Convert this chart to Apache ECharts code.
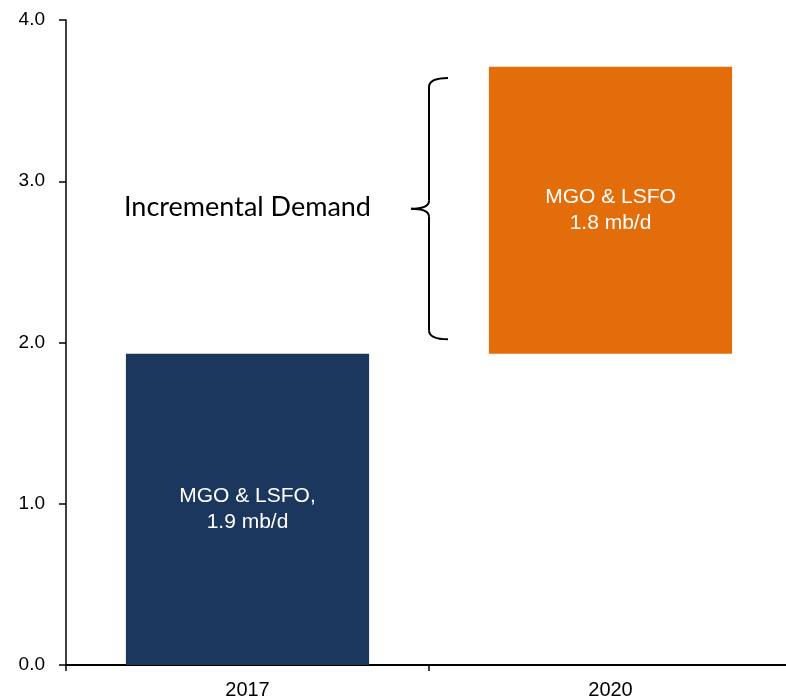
<!DOCTYPE html>
<html><head><meta charset="utf-8">
<script src="https://cdn.jsdelivr.net/npm/echarts@6/dist/echarts.min.js"></script>
<style>html,body{margin:0;padding:0;background:#fff}#c{width:786px;height:697px}</style>
</head><body><div id="c"></div>
<script>
var categories = ['2017', '2020'];
var baseValues = [1.93, 1.93];
var incrementValues = ['-', 1.78];
var barLabels = ['MGO & LSFO,\n1.9 mb/d', 'MGO & LSFO\n1.8 mb/d'];
var yTicks = [0, 1, 2, 3, 4];
var annotationText = 'Incremental Demand';
var braceRange = [2.02, 3.64];

var chart = echarts.init(document.getElementById('c'), null, {renderer: 'canvas'});
var labelFont = {color: '#fff', fontSize: 21, fontFamily: 'Liberation Sans, Arial', lineHeight: 26};
chart.setOption({
  animation: false,
  grid: {left: 66, top: 20, width: 726, height: 645, outerBoundsMode: 'none', containLabel: false},
  xAxis: {
    type: 'category', data: categories,
    axisLine: {lineStyle: {color: '#000', width: 2}},
    axisTick: {show: true, length: 6, lineStyle: {color: '#000', width: 1.5}},
    axisLabel: {color: '#000', fontSize: 20, fontFamily: 'Liberation Sans, Arial', margin: 15}
  },
  yAxis: {
    type: 'value', min: yTicks[0], max: yTicks[yTicks.length - 1], interval: 1,
    axisLine: {show: true, lineStyle: {color: '#000', width: 1.5}},
    axisTick: {show: true, length: 7, lineStyle: {color: '#000', width: 1.5}},
    splitLine: {show: false},
    axisLabel: {color: '#000', fontSize: 19, fontFamily: 'Liberation Sans, Arial', margin: 21,
      formatter: function (v) { return v.toFixed(1); }}
  },
  series: [
    {
      type: 'bar', stack: 's', barWidth: '67%',
      data: baseValues.map(function (v, i) {
        return i === 0
          ? {value: v, itemStyle: {color: '#1B375E'}, label: Object.assign({show: true, position: 'inside', formatter: barLabels[0]}, labelFont)}
          : {value: v, itemStyle: {color: 'rgba(0,0,0,0)'}, label: {show: false}};
      })
    },
    {
      type: 'bar', stack: 's', barWidth: '67%',
      itemStyle: {color: '#E36C0B'},
      label: Object.assign({show: true, position: 'inside', formatter: function (p) { return barLabels[p.dataIndex]; }}, labelFont),
      data: incrementValues
    }
  ]
});

// Brace annotation positioned from data values
var yTop = chart.convertToPixel({yAxisIndex: 0}, braceRange[1]);
var yBot = chart.convertToPixel({yAxisIndex: 0}, braceRange[0]);
var xMid = chart.convertToPixel({xAxisIndex: 0}, categories[0]);
var x2020 = chart.convertToPixel({xAxisIndex: 0}, categories[1]);
var bx = (xMid + x2020) / 2; // category boundary
var ym = (yTop + yBot) / 2;
var endX = bx + 19, tipX = bx - 18;
var st = {stroke: '#000', lineWidth: 2, fill: null};
function curve(x1, y1, cx, cy, x2, y2) {
  return {type: 'bezierCurve', shape: {x1: x1, y1: y1, cpx1: cx, cpy1: cy, x2: x2, y2: y2}, style: st};
}
function seg(x1, y1, x2, y2) {
  return {type: 'line', shape: {x1: x1, y1: y1, x2: x2, y2: y2}, style: st};
}
chart.setOption({
  graphic: [
    curve(endX, yTop, bx, yTop, bx, yTop + 9),
    seg(bx, yTop + 9, bx, ym - 8),
    curve(bx, ym - 8, bx, ym, tipX, ym),
    curve(tipX, ym, bx, ym, bx, ym + 8),
    seg(bx, ym + 8, bx, yBot - 9),
    curve(bx, yBot - 9, bx, yBot, endX, yBot),
    {type: 'text', x: xMid, y: ym - 1, style: {text: annotationText, fill: '#000', fontSize: 27, fontFamily: 'Lato, Open Sans, sans-serif', align: 'center', verticalAlign: 'middle'}}
  ]
});
</script></body></html>
